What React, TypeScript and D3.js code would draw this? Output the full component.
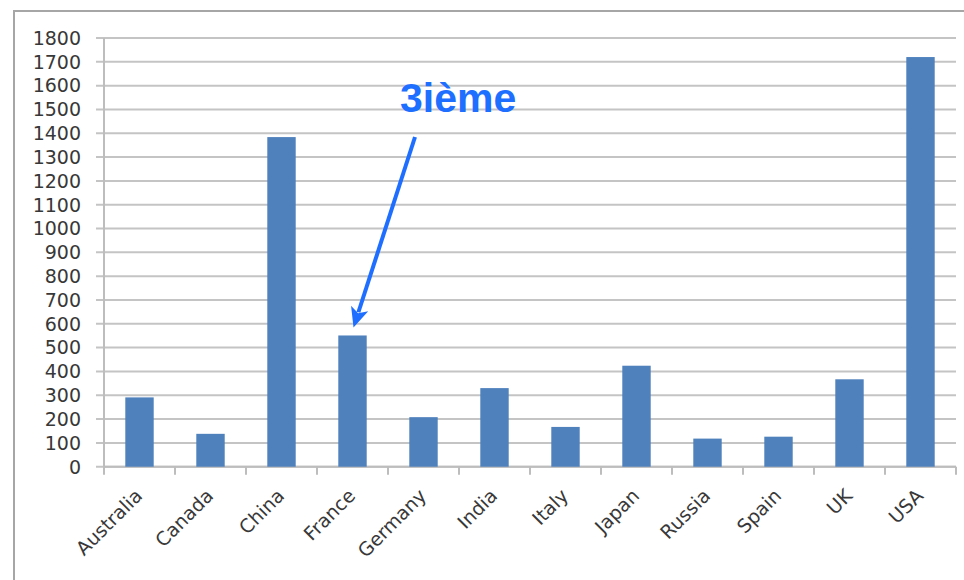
import React from "react";
import * as d3 from "d3";

const categories = ["Australia", "Canada", "China", "France", "Germany", "India", "Italy", "Japan", "Russia", "Spain", "UK", "USA"];
const values = [291, 138, 1384, 551, 208, 330, 167, 424, 118, 126, 367, 1720];
const yTicks = d3.range(0, 1900, 100);
const annotationText = "3ième";
const annotationTarget = "France";

const W = 964;
const H = 580;
const left = 104;
const right = 956;
const top = 38;
const bottom = 466.7;

export default function App() {
  const x = d3.scaleBand<string>().domain(categories).range([left, right]).paddingInner(0.6).paddingOuter(0.3);
  const band = d3.scaleBand<string>().domain(categories).range([left, right]);
  const y = d3.scaleLinear().domain([0, 1800]).range([bottom, top]);
  const font = "'DejaVu Sans', sans-serif";
  const textColor = "#383838";
  const blue = "#1E6EFF";

  const tIdx = categories.indexOf(annotationTarget);
  const tipX = (band(annotationTarget) as number) + band.bandwidth() / 2 + 1;
  const tipY = y(values[tIdx]) - 8;
  const startX = 415;
  const startY = 137;
  const ang = Math.atan2(tipY - startY, tipX - startX);
  const headLen = 20;
  const headW = 9;
  const bx = tipX - headLen * Math.cos(ang);
  const by = tipY - headLen * Math.sin(ang);
  const px = -Math.sin(ang);
  const py = Math.cos(ang);

  return (
    <svg width={W} height={H} style={{ position: "absolute", left: 0, top: 0, background: "#fff" }}>
      <rect x={14} y={11} width={W + 20} height={H + 20} fill="#fff" stroke="#a6a6a6" strokeWidth={2} />
      {yTicks.map((t) => (
        <line key={t} x1={96} x2={right} y1={y(t)} y2={y(t)} stroke="#c4c4c4" strokeWidth={2} />
      ))}
      {yTicks.map((t) => (
        <text key={"l" + t} x={81} y={y(t)} dy="0.36em" textAnchor="end" fontFamily={font} fontSize={19} fill={textColor}>
          {t}
        </text>
      ))}
      <line x1={left} x2={left} y1={top} y2={bottom} stroke="#bdbdbd" strokeWidth={2} />
      <line x1={left} x2={right} y1={bottom} y2={bottom} stroke="#bdbdbd" strokeWidth={2} />
      {categories.map((c) => (
        <line key={"t" + c} x1={band(c) as number} x2={band(c) as number} y1={bottom} y2={bottom + 8} stroke="#bdbdbd" strokeWidth={2} />
      ))}
      <line x1={right} x2={right} y1={bottom} y2={bottom + 8} stroke="#bdbdbd" strokeWidth={2} />
      {categories.map((c, i) => (
        <rect key={"b" + c} x={x(c)} y={y(values[i])} width={x.bandwidth()} height={bottom - y(values[i])} fill="#4F81BD" />
      ))}
      {categories.map((c) => {
        const cx = (band(c) as number) + band.bandwidth() / 2 + 4;
        const cy = 497;
        return (
          <text key={"x" + c} x={cx} y={cy} textAnchor="end" fontFamily={font} fontSize={19} fill={textColor} transform={`rotate(-45 ${cx} ${cy})`}>
            {c}
          </text>
        );
      })}
      <text x={400} y={112} fontFamily="'Liberation Sans', Arial, sans-serif" fontWeight="bold" fontSize={41} fill={blue}>
        {annotationText}
      </text>
      <line x1={startX} y1={startY} x2={bx + 4 * Math.cos(ang)} y2={by + 4 * Math.sin(ang)} stroke={blue} strokeWidth={4} />
      <path
        d={`M${tipX},${tipY} L${bx + headW * px},${by + headW * py} L${bx + 5 * Math.cos(ang)},${by + 5 * Math.sin(ang)} L${bx - headW * px},${by - headW * py} Z`}
        fill={blue}
      />
    </svg>
  );
}
